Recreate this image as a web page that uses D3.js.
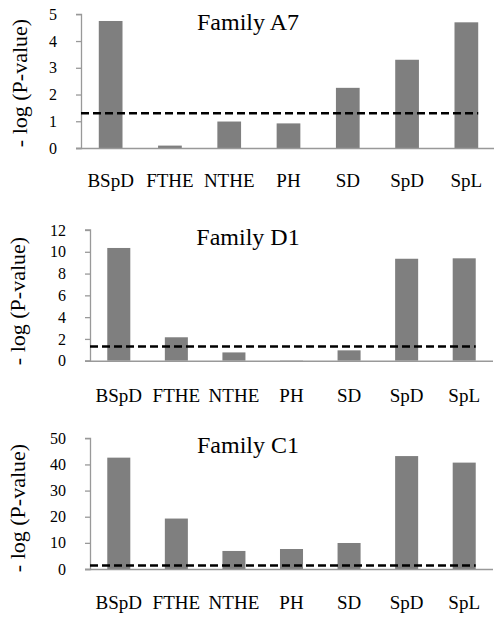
<!DOCTYPE html>
<html>
<head>
<meta charset="utf-8">
<script src="https://cdn.jsdelivr.net/npm/d3@7"></script>
<style>
  html, body { margin: 0; padding: 0; background: #fff; }
  svg { display: block; }
  text { font-family: "Liberation Serif", "Times New Roman", serif; fill: #000; }
</style>
</head>
<body>
<svg id="chart" width="494" height="617"></svg>
<script>
const categories = ["BSpD", "FTHE", "NTHE", "PH", "SD", "SpD", "SpL"];
const titles = ["Family A7", "Family D1", "Family C1"];
const valuesA7 = [4.75, 0.09, 0.99, 0.92, 2.25, 3.3, 4.7];
const valuesD1 = [10.35, 2.15, 0.76, 0.03, 0.95, 9.36, 9.4];
const valuesC1 = [42.6, 19.3, 6.9, 7.65, 9.95, 43.2, 40.7];
const yMax = [5, 12, 50];
const yTicksA7 = [0, 1, 2, 3, 4, 5];
const yTicksD1 = [0, 2, 4, 6, 8, 10, 12];
const yTicksC1 = [0, 10, 20, 30, 40, 50];
const threshold = 1.3; // -log10(0.05)
const yLabel = "- log (P-value)";

const panels = [
  { title: titles[0], values: valuesA7, max: yMax[0], ticks: yTicksA7,
    x0: 81, x1: 496, y0: 148, yTop: 14.3, titleX: 248, titleY: 30, labelY: 187, ylabX: 19, ylabY: 83 },
  { title: titles[1], values: valuesD1, max: yMax[1], ticks: yTicksD1,
    x0: 90, x1: 493, y0: 360.7, yTop: 230, titleX: 248, titleY: 245, labelY: 401.5, ylabX: 17.5, ylabY: 301 },
  { title: titles[2], values: valuesC1, max: yMax[2], ticks: yTicksC1,
    x0: 90, x1: 493, y0: 569, yTop: 438.3, titleX: 248, titleY: 453, labelY: 609, ylabX: 17.5, ylabY: 508 }
];

const svg = d3.select("#chart");
const axisColor = "#999999";
const barColor = "#7f7f7f";

panels.forEach(p => {
  const g = svg.append("g");
  const x = d3.scaleBand().domain(categories).range([p.x0, p.x1]).paddingInner(0.6).paddingOuter(0.3);
  const y = d3.scaleLinear().domain([0, p.max]).range([p.y0, p.yTop]);

  // bars
  g.selectAll("rect.bar").data(p.values).join("rect")
    .attr("class", "bar")
    .attr("x", (d, i) => x(categories[i]))
    .attr("width", x.bandwidth())
    .attr("y", d => y(d))
    .attr("height", d => y(0) - y(d))
    .attr("fill", barColor);

  // y axis
  const yAxis = d3.axisLeft(y).tickValues(p.ticks).tickSize(5).tickPadding(19).tickFormat(d3.format("d"));
  const ya = g.append("g").attr("transform", `translate(${p.x0},0)`).call(yAxis);
  ya.select(".domain").attr("stroke", axisColor).attr("stroke-width", 1.3).attr("d", `M-5,${p.y0 + 0.5}H0.5V${p.yTop}H-5`);
  ya.selectAll(".tick line").attr("stroke", axisColor).attr("stroke-width", 1.3);
  ya.selectAll(".tick text").attr("font-size", 16).attr("font-family", '"Liberation Serif", serif').attr("fill", "#000");

  // x axis baseline
  g.append("line")
    .attr("x1", p.x0 - 5).attr("x2", p.x1)
    .attr("y1", y(0) + 0.5).attr("y2", y(0) + 0.5)
    .attr("stroke", axisColor).attr("stroke-width", 1.5);

  // x labels
  g.selectAll("text.xlab").data(categories).join("text")
    .attr("class", "xlab")
    .attr("x", d => x(d) + x.bandwidth() / 2)
    .attr("y", p.labelY)
    .attr("text-anchor", "middle")
    .attr("font-size", 19)
    .text(d => d);

  // threshold line
  g.append("line")
    .attr("x1", p.x0).attr("x2", x(categories[categories.length - 1]) + x.bandwidth())
    .attr("y1", y(threshold)).attr("y2", y(threshold))
    .attr("stroke", "#000").attr("stroke-width", 2.5)
    .attr("stroke-dasharray", "8,4");

  // title
  g.append("text")
    .attr("x", p.titleX).attr("y", p.titleY)
    .attr("text-anchor", "middle")
    .attr("font-size", 24)
    .text(p.title);

  // y label
  g.append("text")
    .attr("transform", `translate(${p.ylabX},${p.ylabY}) rotate(-90)`)
    .attr("text-anchor", "middle")
    .attr("dy", "0.35em")
    .attr("font-size", 22)
    .text(yLabel);
});
</script>
</body>
</html>
